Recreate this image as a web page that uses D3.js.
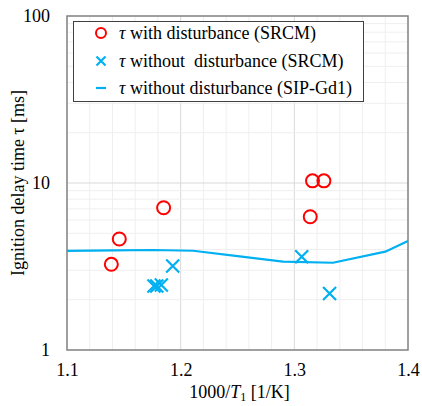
<!DOCTYPE html>
<html>
<head>
<meta charset="utf-8">
<script src="https://cdn.jsdelivr.net/npm/d3@7"></script>
<style>
  body { margin: 0; background: #fff; }
</style>
</head>
<body>
<div id="chart"></div>
<script>
// data
const withDist = [  // tau with disturbance (SRCM): [1000/T1, tau ms]
  [1.139, 3.26], [1.146, 4.62], [1.185, 7.11],
  [1.316, 10.3], [1.326, 10.3], [1.314, 6.28]
];
const withoutDist = [  // tau without disturbance (SRCM)
  [1.1765, 2.42], [1.179, 2.42], [1.183, 2.45], [1.193, 3.18],
  [1.3065, 3.62], [1.331, 2.18]
];
const simLine = [  // tau without disturbance (SIP-Gd1)
  [1.10, 3.92], [1.14, 3.95], [1.176, 3.97], [1.211, 3.93],
  [1.25, 3.65], [1.290, 3.38], [1.334, 3.33], [1.380, 3.88], [1.40, 4.5]
];
const xTicks = [1.1, 1.2, 1.3, 1.4];
const yTicks = [1, 10, 100];
const legendLabels = [
  "with disturbance (SRCM)",
  "without  disturbance (SRCM)",
  "without disturbance (SIP-Gd1)"
];

const W = 422, H = 406;
const m = { left: 67, right: 14, top: 16, bottom: 56 };
const red = "#ff0000", blue = "#00b0f0";
const FONT = "'Liberation Serif', 'Times New Roman', Tinos, 'DejaVu Serif', serif";
const FS = 18;

const svg = d3.select("#chart").append("svg")
  .attr("width", W).attr("height", H)
  .attr("font-family", FONT);

const x = d3.scaleLinear().domain([1.1, 1.4]).range([m.left, W - m.right]);
const y = d3.scaleLog().domain([1, 100]).range([H - m.bottom, m.top]);

// grid
const grid = svg.append("g");
const xGrid = d3.range(1.12, 1.39, 0.02);
grid.selectAll("line.xg").data(xGrid).join("line")
  .attr("x1", d => x(d)).attr("x2", d => x(d))
  .attr("y1", y(1)).attr("y2", y(100))
  .attr("stroke", d => Math.abs(d * 10 - Math.round(d * 10)) < 1e-6 ? "#d9d9d9" : "#efefef")
  .attr("stroke-width", 1);
const yGrid = [];
[1, 10].forEach(dec => d3.range(1, 10).forEach(k => { if (dec * k > 1) yGrid.push(dec * k); }));
grid.selectAll("line.yg").data(yGrid).join("line")
  .attr("x1", x(1.1)).attr("x2", x(1.4))
  .attr("y1", d => y(d)).attr("y2", d => y(d))
  .attr("stroke", d => d === 10 ? "#d9d9d9" : "#efefef")
  .attr("stroke-width", 1);

// frame
svg.append("rect")
  .attr("x", x(1.1)).attr("y", y(100))
  .attr("width", x(1.4) - x(1.1)).attr("height", y(1) - y(100))
  .attr("fill", "none").attr("stroke", "#808080").attr("stroke-width", 1.5);

// axes
const xAxis = svg.append("g")
  .attr("transform", `translate(0,${y(1)})`)
  .call(d3.axisBottom(x).tickValues(xTicks).tickSize(0).tickPadding(13).tickFormat(d3.format(".1f")));
const yAxis = svg.append("g")
  .attr("transform", `translate(${x(1.1)},0)`)
  .call(d3.axisLeft(y).tickValues(yTicks).tickSize(0).tickPadding(17).tickFormat(d3.format("d")));
[xAxis, yAxis].forEach(a => {
  a.attr("font-family", FONT).attr("font-size", FS);
  a.select(".domain").remove();
  a.selectAll("text").attr("fill", "#000");
});

// axis titles
const xt = svg.append("text")
  .attr("x", (x(1.1) + x(1.4)) / 2 + 2).attr("y", 398)
  .attr("text-anchor", "middle").attr("font-size", FS);
xt.append("tspan").text("1000/");
xt.append("tspan").attr("font-style", "italic").text("T");
xt.append("tspan").attr("dy", 3).attr("font-size", 12).text("1");
xt.append("tspan").attr("dy", -3).text(" [1/K]");

svg.append("text")
  .attr("transform", `translate(24,${(y(1) + y(100)) / 2}) rotate(-90)`)
  .attr("text-anchor", "middle").attr("font-size", FS)
  .text("Ignition delay time \u03c4 [ms]");

// line
const line = d3.line().x(d => x(d[0])).y(d => y(d[1]));
svg.append("path").datum(simLine)
  .attr("d", line).attr("fill", "none")
  .attr("stroke", blue).attr("stroke-width", 2.2);

// markers
svg.selectAll("circle.wd").data(withDist).join("circle")
  .attr("cx", d => x(d[0])).attr("cy", d => y(d[1])).attr("r", 6.5)
  .attr("fill", "none").attr("stroke", red).attr("stroke-width", 2);

const cr = 6.5;
const crossPath = (cx, cy) => `M${cx - cr},${cy - cr}L${cx + cr},${cy + cr}M${cx - cr},${cy + cr}L${cx + cr},${cy - cr}`;
svg.selectAll("path.wo").data(withoutDist).join("path")
  .attr("d", d => crossPath(x(d[0]), y(d[1])))
  .attr("stroke", blue).attr("stroke-width", 2.2).attr("fill", "none");

// legend
const lg = svg.append("g");
lg.append("rect").attr("x", 73.5).attr("y", 21.5).attr("width", 290).attr("height", 80)
  .attr("fill", "#fff").attr("stroke", "#404040").attr("stroke-width", 1);
const rowsY = [33, 61, 88];
const mx = 101;
lg.append("circle").attr("cx", mx).attr("cy", rowsY[0]).attr("r", 5)
  .attr("fill", "none").attr("stroke", red).attr("stroke-width", 2);
lg.append("path").attr("d", `M${mx - 4.5},${rowsY[1] - 4.5}L${mx + 4.5},${rowsY[1] + 4.5}M${mx - 4.5},${rowsY[1] + 4.5}L${mx + 4.5},${rowsY[1] - 4.5}`)
  .attr("stroke", blue).attr("stroke-width", 2.2);
lg.append("line").attr("x1", mx - 5).attr("x2", mx + 5).attr("y1", rowsY[2]).attr("y2", rowsY[2])
  .attr("stroke", blue).attr("stroke-width", 2.2);
legendLabels.forEach((t, i) => {
  const tx = lg.append("text").attr("x", 119).attr("y", rowsY[i] + 6)
    .attr("font-size", FS).attr("xml:space", "preserve");
  tx.append("tspan").attr("font-style", "italic").text("\u03c4");
  tx.append("tspan").text(" " + t);
});
</script>
</body>
</html>
